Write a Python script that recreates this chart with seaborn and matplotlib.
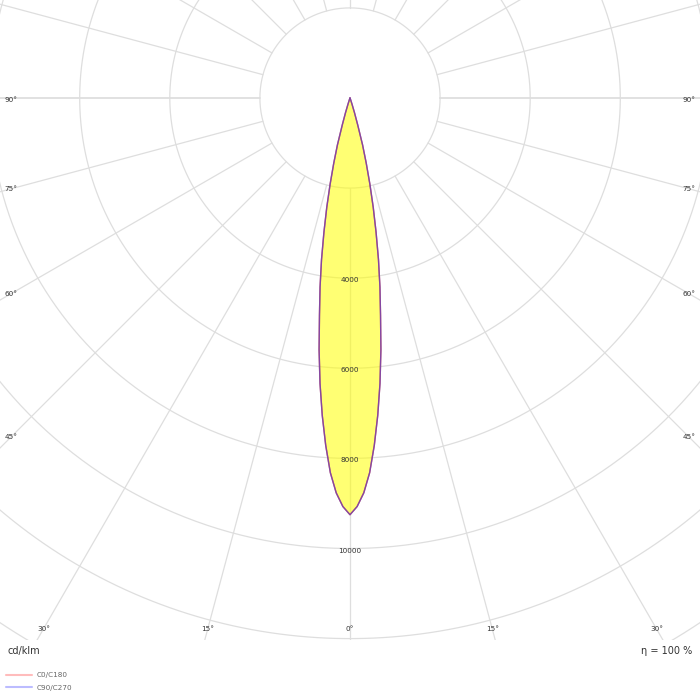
import numpy as np
import pandas as pd
import matplotlib
matplotlib.use('Agg')
import matplotlib.pyplot as plt
from matplotlib.lines import Line2D
import seaborn as sns

angulos = [0, 1, 2, 3, 4, 5, 6, 7, 8, 9, 10, 11, 12, 13, 14, 15, 16, 17, 18, 20, 25, 30, 45, 60, 75, 90]
c0_c180 = [9250, 9070, 8770, 8330, 7730, 7070, 6370, 5630, 4870, 4250, 3640, 3030, 2480, 1960, 1490,
           1080, 620, 340, 150, 40, 0, 0, 0, 0, 0, 0]
c90_c270 = [9250, 9070, 8770, 8330, 7730, 7070, 6370, 5630, 4870, 4250, 3640, 3030, 2480, 1960, 1490,
            1080, 620, 340, 150, 40, 0, 0, 0, 0, 0, 0]

aneis = [2000, 4000, 6000, 8000, 10000, 12000, 14000, 16000]
rotulos_aneis = [4000, 6000, 8000, 10000]
raios_angulo = list(range(-180, 180, 15))
rotulos_angulo = [-90, -75, -60, -45, -30, -15, 0, 15, 30, 45, 60, 75, 90]

sns.set_theme(style='white')
plt.rcParams['font.family'] = ['DejaVu Sans']

cinza = '#dedede'
texto = '#333333'

fig = plt.figure(figsize=(7, 7), dpi=100)
ax = fig.add_axes([0, 60 / 700, 1, 640 / 700])
u = 1000 / 45.05  # unidades por pixel
ax.set_xlim(-350 * u, 350 * u)
ax.set_ylim(-542 * u, 98 * u)
ax.axis('off')

# Anéis
t = np.linspace(0, 2 * np.pi, 721)
for r in aneis:
    ax.plot(r * np.cos(t), r * np.sin(t), color=cinza, lw=0.9, zorder=1)

# Raios a cada 15 graus
for a in raios_angulo:
    th = np.radians(a)
    lw = 1.3 if abs(a) == 90 else 0.9
    ax.plot([2000 * np.sin(th), 30000 * np.sin(th)], [-2000 * np.cos(th), -30000 * np.cos(th)],
            color=cinza, lw=lw, zorder=1)

# Curva fotométrica (espelhada)
def curva(valores):
    ang = np.array(angulos, dtype=float)
    val = np.array(valores, dtype=float)
    ang_full = np.concatenate([-ang[::-1], ang[1:]])
    val_full = np.concatenate([val[::-1], val[1:]])
    th = np.radians(ang_full)
    return pd.DataFrame({'x': val_full * np.sin(th), 'y': -val_full * np.cos(th)})

df0 = curva(c0_c180)
df90 = curva(c90_c270)

ax.fill(df0['x'], df0['y'], color='#ffff00', alpha=0.55, lw=0, zorder=2)
sns.lineplot(data=df0, x='x', y='y', sort=False, estimator=None, color='#cc3333', lw=1.0, ax=ax, zorder=3)
sns.lineplot(data=df90, x='x', y='y', sort=False, estimator=None, color='#5555ee', lw=1.0, alpha=0.6,
             ax=ax, zorder=4)
ax.set_xlim(-350 * u, 350 * u)
ax.set_ylim(-542 * u, 98 * u)

# Rótulos dos anéis
for r in rotulos_aneis:
    ax.text(0, -r - 45, f'{r}', ha='center', va='center', fontsize=5.2, color=texto, zorder=5)

# Rótulos dos ângulos na borda
inset = 11 * u
xmax = 350 * u - inset
ybot = 542 * u - inset
for a in rotulos_angulo:
    th = np.radians(a)
    s, c = np.sin(th), np.cos(th)
    dist = []
    if abs(s) > 1e-9:
        dist.append(xmax / abs(s))
    if c > 1e-9:
        dist.append(ybot / c)
    d = min(dist)
    x, y = d * s, -d * c
    if abs(a) == 90:
        y -= 2 * u
    ax.text(x, y, f'{abs(a)}°', ha='center', va='center', fontsize=5.2, color=texto, zorder=5)

fig.text(8 / 700, 1 - 651 / 700, 'cd/klm', ha='left', va='center', fontsize=7, color=texto)
fig.text(692 / 700, 1 - 651 / 700, 'η = 100 %', ha='right', va='center', fontsize=7, color=texto)

alcas = [Line2D([0], [0], color='#ffbcbc', lw=1.5), Line2D([0], [0], color='#bcbcff', lw=1.5)]
fig.legend(alcas, ['C0/C180', 'C90/C270'], loc='upper left', bbox_to_anchor=(2 / 700, 1 - 668 / 700),
           frameon=False, fontsize=5.2, handlelength=3.6, labelspacing=0.9, handletextpad=0.6,
           labelcolor='#666666', borderaxespad=0.2)

plt.savefig('out.png', dpi=100)
